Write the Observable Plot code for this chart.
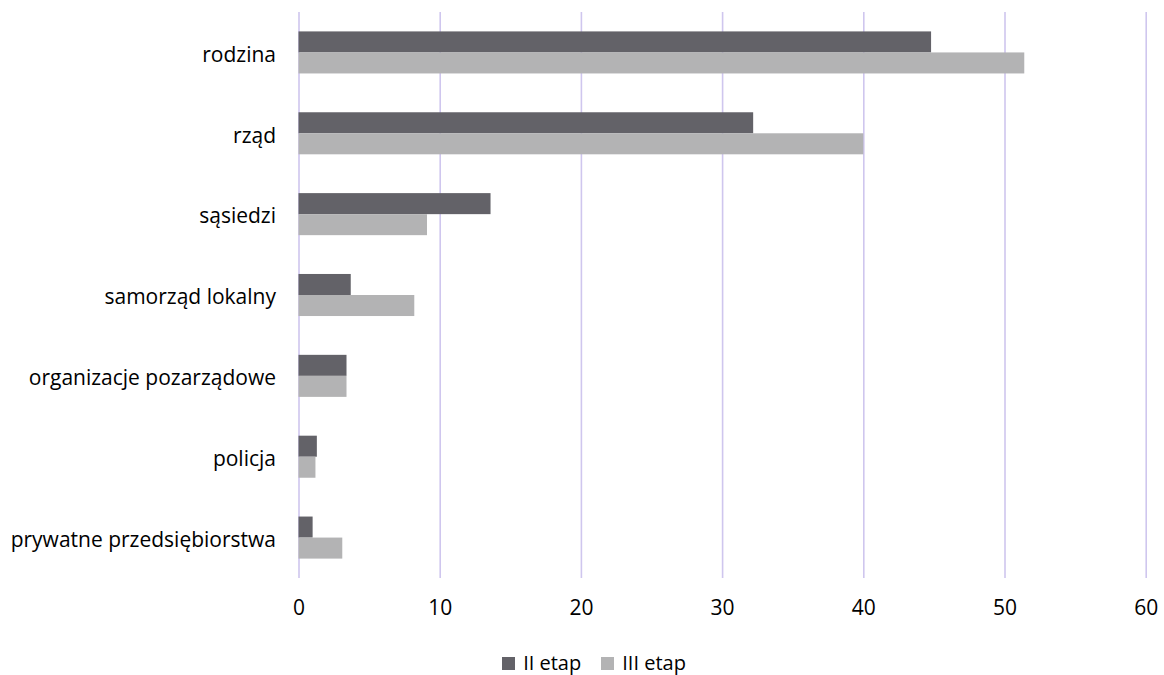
<!DOCTYPE html>
<html>
<head>
<meta charset="utf-8">
<script src="https://cdn.jsdelivr.net/npm/d3@7"></script>
<script src="https://cdn.jsdelivr.net/npm/@observablehq/plot@0.6"></script>
<style>
  html, body { margin: 0; padding: 0; background: #fff; }
  body { width: 1164px; height: 675px; overflow: hidden; font-family: "Open Sans", sans-serif; }
  #legend { display: flex; justify-content: center; align-items: center; gap: 20px; margin-top: 24px; padding-left: 24px;
            font-family: "Open Sans", sans-serif; font-size: 20px; color: #000; line-height: 28px; }
  #legend .item { display: flex; align-items: center; gap: 8px; }
  #legend .sw { width: 13px; height: 13px; display: inline-block; }
</style>
</head>
<body>
<div id="chart"></div>
<div id="legend"></div>
<script>
const categories = ["rodzina", "rząd", "sąsiedzi", "samorząd lokalny", "organizacje pozarządowe", "policja", "prywatne przedsiębiorstwa"];
const seriesNames = ["II etap", "III etap"];
const etap2 = [44.8, 32.2, 13.6, 3.7, 3.4, 1.3, 1.0];
const etap3 = [51.4, 40.0, 9.1, 8.2, 3.4, 1.2, 3.1];
const xTicks = [0, 10, 20, 30, 40, 50, 60];
const colors = ["#636268", "#b3b3b4"];

const data2 = categories.map((c, i) => ({category: c, series: seriesNames[0], value: etap2[i]}));
const data3 = categories.map((c, i) => ({category: c, series: seriesNames[1], value: etap3[i]}));

const W = 1164, H = 625, mt = 12, mb = 47, ml = 298.5, mr = 18.3;
const pInner = 0.48, pOuter = 0.24;
const step = (H - mt - mb) / (categories.length - pInner + 2 * pOuter);
const bw = step * (1 - pInner);
const half = bw / 2;

const plot = Plot.plot({
  width: W, height: H,
  marginTop: mt, marginBottom: mb, marginLeft: ml, marginRight: mr,
  style: {fontFamily: "Open Sans, sans-serif", fontSize: "20px", color: "#000", background: "#fff", display: "block"},
  x: {domain: [0, 60], ticks: xTicks, label: null},
  y: {domain: categories, paddingInner: pInner, paddingOuter: pOuter, round: false, label: null},
  marks: [
    Plot.gridX(xTicks, {stroke: "#cfc6ee", strokeOpacity: 1, strokeWidth: 1.6}),
    Plot.barX(data2, {x: "value", y: "category", fill: colors[0], insetBottom: half}),
    Plot.barX(data3, {x: "value", y: "category", fill: colors[1], insetTop: half}),
    Plot.axisX(xTicks, {tickSize: 0, tickPadding: 22, fontSize: 21, label: null}),
    Plot.axisY(categories, {tickSize: 0, tickPadding: 23, fontSize: 21, dy: 2, label: null})
  ]
});
document.getElementById("chart").appendChild(plot);

const legend = document.getElementById("legend");
seriesNames.forEach((name, i) => {
  const item = document.createElement("span");
  item.className = "item";
  const sw = document.createElement("span");
  sw.className = "sw";
  sw.style.background = colors[i];
  const t = document.createElement("span");
  t.textContent = name;
  item.appendChild(sw);
  item.appendChild(t);
  legend.appendChild(item);
});
</script>
</body>
</html>
